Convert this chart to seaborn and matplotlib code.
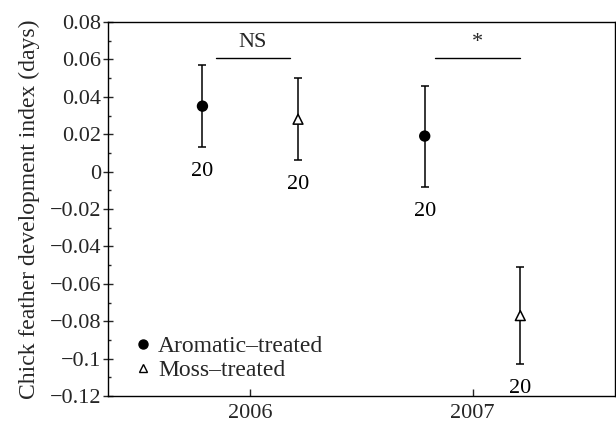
import matplotlib
matplotlib.use("Agg")
import matplotlib.pyplot as plt
import seaborn as sns
import pandas as pd
import numpy as np
from matplotlib.ticker import MultipleLocator
from matplotlib.lines import Line2D

years = [2006, 2007]
groups = ["Aromatic\u2013treated", "Moss\u2013treated"]
aromatic_mean = [0.035, 0.019]
aromatic_err = [0.022, 0.027]
moss_mean = [0.028, -0.077]
moss_err = [0.022, 0.026]
n_aromatic = [20, 20]
n_moss = [20, 20]
yticks = [0.08, 0.06, 0.04, 0.02, 0, -0.02, -0.04, -0.06, -0.08, -0.1, -0.12]
ytick_labels = ["0.08", "0.06", "0.04", "0.02", "0", "\u22120.02", "\u22120.04",
                "\u22120.06", "\u22120.08", "\u22120.1", "\u22120.12"]
sig_labels = ["NS", "*"]

offset = 0.215
rows = []
for i, y in enumerate(years):
    rows.append(dict(x=y - offset, mean=aromatic_mean[i], err=aromatic_err[i], n=n_aromatic[i], group=groups[0]))
    rows.append(dict(x=y + offset, mean=moss_mean[i], err=moss_err[i], n=n_moss[i], group=groups[1]))
df = pd.DataFrame(rows)

sns.set_theme(style="ticks")
plt.rcParams["font.family"] = ["Liberation Serif", "DejaVu Serif"]
plt.rcParams["axes.unicode_minus"] = True
FS = 16

fig = plt.figure(figsize=(6.16, 4.23), dpi=100)
ax = fig.add_axes([0.1753, 0.0638, 0.8227, 0.8842])

for _, r in df.iterrows():
    ax.errorbar(r["x"], r["mean"], yerr=r["err"], fmt="none", ecolor="black",
                elinewidth=1.1, capsize=3, capthick=1.1, zorder=2)
    ax.text(r["x"], r["mean"] - r["err"] - 0.0155, str(r["n"]), ha="center", va="baseline",
            fontsize=FS, color="black")

sns.scatterplot(data=df, x="x", y="mean", style="group", markers={groups[0]: "o", groups[1]: "^"},
                hue="group", palette={groups[0]: "black", groups[1]: "white"},
                edgecolor="black", linewidth=1.1, s=50, legend=False, ax=ax, zorder=3)

# significance bars
sig_y = 0.061
for i, y in enumerate(years):
    x0, x1 = y - offset + 0.06, y + offset - 0.035
    if i == 1:
        x0, x1 = y - offset + 0.045, y + offset
    ax.plot([x0, x1], [sig_y, sig_y], color="black", lw=1.0)
    ax.text((x0 + x1) / 2, sig_y + 0.003, sig_labels[i], ha="center", va="bottom", fontsize=FS)

ax.set_xlim(2005.36, 2007.64)
ax.set_ylim(-0.12, 0.08)
ax.set_xticks(years)
ax.set_xticklabels([str(y) for y in years])
ax.set_yticks(yticks)
ax.set_yticklabels(ytick_labels)
ax.yaxis.set_minor_locator(MultipleLocator(0.01))
ax.tick_params(axis="y", which="major", direction="inout", length=6.5, width=1, labelsize=FS, pad=1.5)
ax.tick_params(axis="y", which="minor", direction="in", length=2.5, width=1)
ax.tick_params(axis="x", which="major", direction="in", length=5, width=1, labelsize=FS, pad=6)
ax.set_xlabel("")
ax.set_ylabel("Chick feather development index (days)", fontsize=17, labelpad=7)
for s in ax.spines.values():
    s.set_linewidth(1.0)
    s.set_color("black")

handles = [Line2D([], [], marker="o", ls="none", color="black", markersize=6.5),
           Line2D([], [], marker="^", ls="none", markerfacecolor="white", markeredgecolor="black",
                  markersize=6, markeredgewidth=1.0)]
ax.legend(handles, groups, loc="lower left", frameon=False, fontsize=17, handlelength=0.6,
          handletextpad=0.35, borderaxespad=0.0, labelspacing=0.1, bbox_to_anchor=(0.036, 0.015))

fig.savefig("out.png", dpi=100)
